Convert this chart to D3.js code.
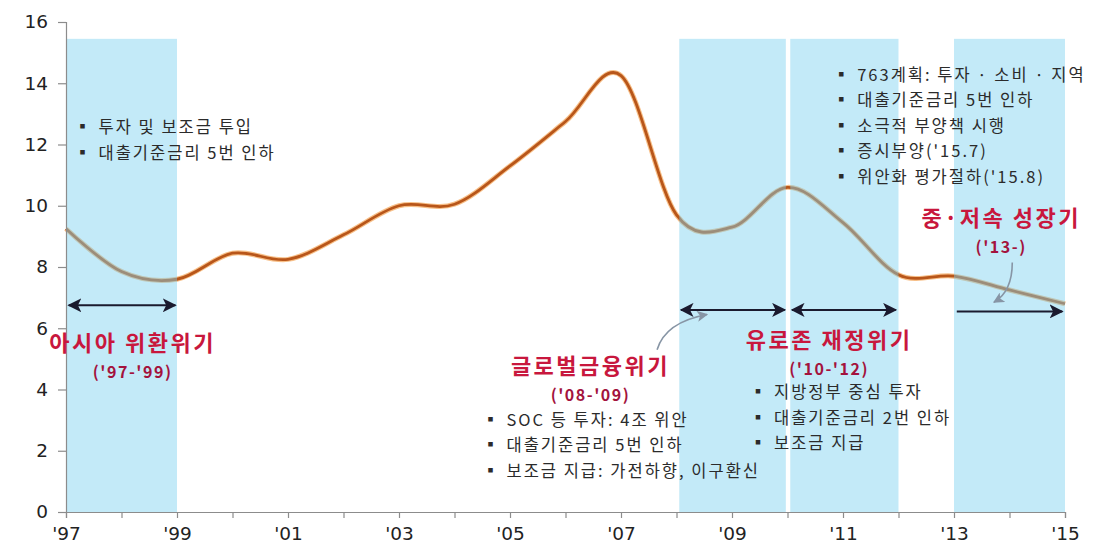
<!DOCTYPE html>
<html>
<head>
<meta charset="utf-8">
<script src="https://cdn.jsdelivr.net/npm/d3@7"></script>
<style>
  body { margin: 0; background: #fff; }
  svg text { font-family: "Noto Sans CJK KR", "Noto Sans", sans-serif; }
  .tick text { font-family: "DejaVu Sans", sans-serif; }
</style>
</head>
<body>
<svg id="chart" width="1098" height="551"></svg>
<script>
// China GDP growth with crisis periods

const years = [1997, 1998, 1999, 2000, 2001, 2002, 2003, 2004, 2005, 2006, 2007, 2008, 2009, 2010, 2011, 2012, 2013, 2014, 2015];
const growth = [9.25, 7.85, 7.6, 8.45, 8.25, 9.05, 10.0, 10.05, 11.3, 12.75, 14.25, 9.7, 9.3, 10.6, 9.45, 7.75, 7.7, 7.25, 6.8];
const yTicks = [0, 2, 4, 6, 8, 10, 12, 14, 16];
const xTickLabels = ["'97", "'99", "'01", "'03", "'05", "'07", "'09", "'11", "'13", "'15"];

// shaded periods [start, end]
const bands = [[1997, 1999], [2008.05, 2009.97], [2010.05, 2012], [2013, 2015]];
const bandTop = 15.45;

// arrows: [start, end, value, doubleHeaded]
const arrows = [
  [1997.05, 1998.97, 6.75, true],
  [2008.08, 2009.95, 6.6, true],
  [2010.08, 2011.95, 6.6, true],
  [2013.05, 2014.95, 6.55, false]
];

// red period labels: [text, sub, year, value]
const periods = [
  ["아시아 위환위기", "('97-'99)", 1998.2, 5.25],
  ["글로벌금융위기", "('08-'09)", 2006.45, 4.5],
  ["유로존 재정위기", "('10-'12)", 2010.75, 5.35],
  ["중·저속 성장기", "('13-)", 2013.85, 9.35]
];

// bullet notes: [year, value of first line, lines]
const notes = [
  [1997.15, 12.55, ["투자 및 보조금 투입", "대출기준금리 5번 인하"]],
  [2010.82, 14.27, ["763계획: 투자  · 소비 · 지역", "대출기준금리 5번 인하", "소극적 부양책 시행", "증시부양('15.7)", "위안화  평가절하('15.8)"]],
  [2004.5, 3.0, ["SOC 등 투자: 4조 위안", "대출기준금리 5번 인하", "보조금 지급: 가전하향, 이구환신"]],
  [2009.32, 3.9, ["지방정부 중심 투자", "대출기준금리 2번 인하", "보조금 지급"]]
];

const svg = d3.select("#chart");
const x = d3.scaleLinear().domain([1997, 2015]).range([66, 1065]);
const y = d3.scaleLinear().domain([0, 16]).range([512, 22]);

const defs = svg.append("defs");
function marker(id, color, size) {
  defs.append("marker")
    .attr("id", id)
    .attr("viewBox", "0 0 10 10")
    .attr("refX", 9).attr("refY", 5)
    .attr("markerWidth", size).attr("markerHeight", size)
    .attr("markerUnits", "userSpaceOnUse")
    .attr("orient", "auto-start-reverse")
    .append("path")
    .attr("d", "M0,0 L10,5 L0,10 L2.5,5 Z")
    .attr("fill", color);
}
marker("ah", "#1a1a2e", 14);
marker("ahg", "#8795a5", 11);

// line (drawn under the bands so bands tint it)
const line = d3.line()
  .x((d, i) => x(years[i]))
  .y(d => y(d))
  .curve(d3.curveCardinal.tension(0));

svg.append("path")
  .datum(growth)
  .attr("fill", "none")
  .attr("stroke", "#f3a455")
  .attr("stroke-width", 5)
  .attr("opacity", 0.7)
  .attr("d", line);

svg.append("path")
  .datum(growth)
  .attr("fill", "none")
  .attr("stroke", "#b8561a")
  .attr("stroke-width", 2.8)
  .attr("d", line);

// bands
svg.append("g")
  .selectAll("rect")
  .data(bands)
  .join("rect")
  .attr("x", d => x(d[0]))
  .attr("width", d => x(d[1]) - x(d[0]))
  .attr("y", y(bandTop))
  .attr("height", y(0) - y(bandTop))
  .attr("fill", "rgb(122,208,239)")
  .attr("opacity", 0.45);

// axes
const yAxis = svg.append("g")
  .attr("transform", `translate(${x(1997)},0)`)
  .call(d3.axisLeft(y).tickValues(yTicks).tickSize(8).tickPadding(10).tickFormat(d3.format("d")));

const xAxis = svg.append("g")
  .attr("transform", `translate(0,${y(0)})`)
  .call(d3.axisBottom(x).tickValues(years).tickSize(6).tickPadding(5)
    .tickFormat(d => (d - 1997) % 2 === 0 ? xTickLabels[(d - 1997) / 2] : ""));

[yAxis, xAxis].forEach(a => {
  a.select(".domain").attr("stroke", "#8c8c8c").attr("stroke-width", 1.2);
  a.selectAll(".tick line").attr("stroke", "#8c8c8c").attr("stroke-width", 1.2);
  a.selectAll(".tick text").attr("fill", "#222").style("font-size", "18.5px");
});
xAxis.selectAll(".tick text").attr("dy", "0.9em");

// period arrows
svg.append("g")
  .selectAll("line")
  .data(arrows)
  .join("line")
  .attr("x1", d => x(d[0]))
  .attr("x2", d => x(d[1]))
  .attr("y1", d => y(d[2]))
  .attr("y2", d => y(d[2]))
  .attr("stroke", "#1a1a2e")
  .attr("stroke-width", 2)
  .attr("marker-end", "url(#ah)")
  .attr("marker-start", d => d[3] ? "url(#ah)" : null);

// small curved pointers
const gp = svg.append("g").attr("fill", "none").attr("stroke", "#8795a5").attr("stroke-width", 1.6);
gp.append("path")
  .attr("d", `M${x(2007.65)},${y(5.3)} Q${x(2007.8)},${y(6.2)} ${x(2008.55)},${y(6.45)}`)
  .attr("marker-end", "url(#ahg)");
gp.append("path")
  .attr("d", `M${x(2014.05)},${y(8.15)} Q${x(2014.05)},${y(7.2)} ${x(2013.72)},${y(6.85)}`)
  .attr("marker-end", "url(#ahg)");

// red labels
const pg = svg.append("g").attr("text-anchor", "middle");
periods.forEach(p => {
  pg.append("text")
    .attr("x", x(p[2])).attr("y", y(p[3]))
    .attr("fill", "#c8173d")
    .style("font-size", "22px").style("font-weight", 700)
    .style("letter-spacing", "2.5px")
    .text(p[0]);
  pg.append("text")
    .attr("x", x(p[2])).attr("y", y(p[3]) + 27)
    .attr("fill", "#a3133d")
    .style("font-size", "16px").style("font-weight", 700)
    .style("letter-spacing", "1.5px")
    .text(p[1]);
});

// bullet notes
const ng = svg.append("g").attr("fill", "#2b2b2b")
  .style("font-size", "16.5px").style("letter-spacing", "2px");
notes.forEach(n => {
  n[2].forEach((t, i) => {
    ng.append("text")
      .attr("x", x(n[0])).attr("y", y(n[1]) + i * 25.5)
      .attr("dy", "0.35em")
      .text("▪ " + t);
  });
});
</script>
</body>
</html>
